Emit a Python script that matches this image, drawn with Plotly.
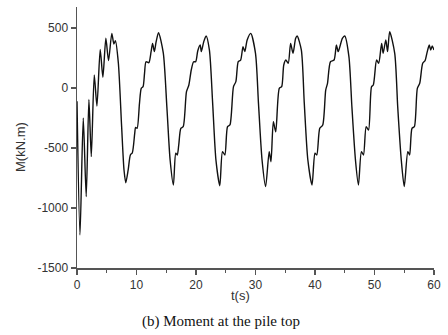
import plotly.graph_objects as go

t_s = [0.0, 0.5, 1.05, 1.55, 2.0, 2.4, 2.9, 3.35, 3.9, 4.35, 4.85, 5.3, 5.85, 6.2, 6.45, 6.95, 7.5, 7.9,
       8.2, 8.6, 8.97, 9.3, 9.7, 9.85, 10.1, 10.5, 10.8, 11.1, 11.35, 11.6, 12.07, 12.45, 12.7, 13.0, 13.3, 13.7,
       14.5, 15.1, 15.65,
       16.2, 16.6, 16.85, 17.1, 17.45, 17.85, 18.4, 18.8, 19.2, 19.6, 19.95, 20.3, 20.7, 20.9, 21.3, 21.7,
       22.25, 22.8, 23.35,
       24.0, 24.45, 24.85, 25.3, 25.7, 26.3, 26.7, 27.1, 27.5, 27.9, 28.2, 28.6, 29.2,
       30.0, 30.5, 31.1,
       31.7, 32.3, 32.6, 33.0, 33.4, 34.0, 34.4, 34.75, 35.1, 35.5, 35.9, 36.3, 36.75, 37.0,
       37.7, 38.2, 38.8,
       39.5, 40.0, 40.3, 40.8, 41.3, 41.8, 42.1, 42.6, 43.2, 43.6, 43.9, 44.6, 45.0,
       45.7, 46.2, 46.8,
       47.3, 47.8, 48.15, 48.6, 49.0, 49.5, 49.8, 50.35, 50.7, 51.2, 51.45, 51.9, 52.2, 52.55,
       53.4, 53.9, 54.5,
       55.0, 55.6, 55.9, 56.3, 56.7, 57.2, 57.6, 58.1, 58.5, 58.8, 59.2, 59.45, 59.7, 60.0]

moment_kNm = [-110, -1225, -250, -905, -95, -572, 108, -150, 322, 89, 414, 228, 455, 367, 394, 208, -322, -683,
              -789, -683, -558, -539, -378, -328, -336, -128, -3, 11, 122, 219, 211, 303, 372, 303, 386, 461,
              292, -156, -600,
              -808, -544, -558, -475, -336, -322, -31, 25, 150, 219, 219, 311, 358, 303, 386, 433,
              317, -128, -600,
              -814, -530, -558, -322, -308, 11, 53, 219, 233, 344, 303, 400, 455,
              289, -128, -600,
              -822, -530, -614, -281, -364, -3, 11, 192, 233, 206, 372, 289, 414, 433,
              317, -128, -600,
              -808, -544, -558, -336, -308, -17, 39, 219, 233, 358, 303, 414, 433,
              261, -156, -600,
              -808, -530, -558, -322, -350, 11, 25, 233, 206, 372, 289, 400, 303, 469,
              289, -156, -600,
              -822, -530, -558, -336, -322, -3, 39, 206, 228, 289, 358, 317, 350, 317]

x_ticks = [0, 10, 20, 30, 40, 50, 60]
y_ticks = [-1500, -1000, -500, 0, 500]
y_tick_labels = ["-1500", "-1000", "-500", "0", "500"]

fig = go.Figure()
fig.add_trace(go.Scatter(x=t_s, y=moment_kNm, mode="lines",
                         line=dict(color="#111111", width=1.4, shape="spline", smoothing=0.7),
                         showlegend=False, hoverinfo="skip"))

axis_font = dict(family="Liberation Sans, Arial, sans-serif", size=12, color="#333333")

fig.update_layout(
    width=448, height=335,
    margin=dict(l=77, r=8, t=7, b=67),
    paper_bgcolor="white", plot_bgcolor="white",
    xaxis=dict(range=[0, 60], tickvals=x_ticks, ticks="outside", ticklen=5, tickwidth=1.2,
               tickcolor="#555555", showline=True, linecolor="#555555", linewidth=1.5,
               showgrid=False, zeroline=False, tickfont=axis_font,
               minor=dict(dtick=5, tick0=0, ticks="outside", ticklen=3, tickcolor="#555555", tickwidth=1)),
    yaxis=dict(range=[-1500, 675], tickvals=y_ticks, ticktext=y_tick_labels, ticks="outside", ticklen=5,
               tickwidth=1.2, tickcolor="#555555", showline=True, linecolor="#555555", linewidth=1.5,
               showgrid=False, zeroline=False, tickfont=axis_font),
)

fig.add_annotation(text="t(s)", xref="paper", yref="paper", x=(243 - 77) / 363, y=-(295 - 268) / 261,
                   showarrow=False, xanchor="center", yanchor="middle",
                   font=dict(family="Liberation Sans, Arial, sans-serif", size=13, color="#333333"))
fig.add_annotation(text="M(kN.m)", xref="paper", yref="paper", x=-(77 - 19) / 363, y=(268 - 147) / 261,
                   showarrow=False, xanchor="center", yanchor="middle", textangle=-90,
                   font=dict(family="Liberation Sans, Arial, sans-serif", size=13, color="#333333"))
fig.add_annotation(text="(b) Moment at the pile top", xref="paper", yref="paper",
                   x=(223 - 77) / 363, y=-(321 - 268) / 261,
                   showarrow=False, xanchor="center", yanchor="middle",
                   font=dict(family="Liberation Serif, Times New Roman, serif", size=15, color="#111111"))

fig.write_html("out.html", config={"displayModeBar": False, "staticPlot": True},
               post_script="document.body.style.margin='0';document.body.style.overflow='hidden';")
